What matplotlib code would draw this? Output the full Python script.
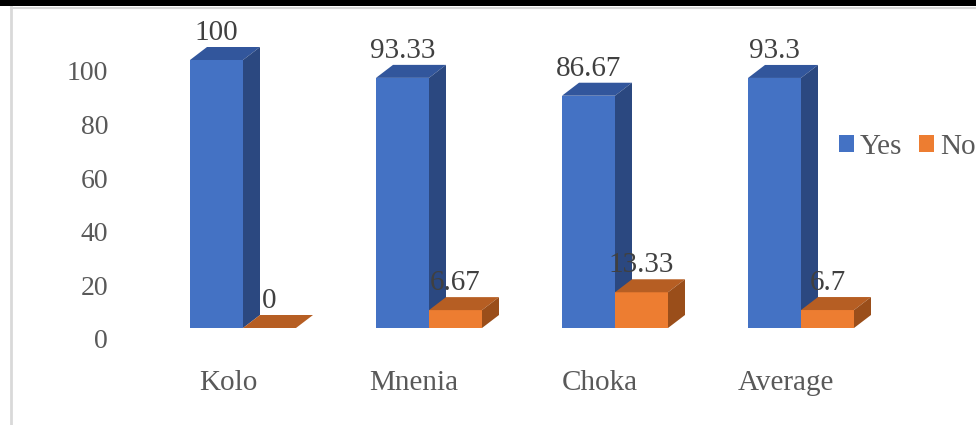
import matplotlib.pyplot as plt
from matplotlib.patches import Polygon, Patch, Rectangle
from matplotlib.lines import Line2D
from matplotlib.transforms import ScaledTranslation

# data
categories = ['Kolo', 'Mnenia', 'Choka', 'Average']
yes_vals = [100, 93.33, 86.67, 93.3]
no_vals = [0, 6.67, 13.33, 6.7]
yes_labels = ['100', '93.33', '86.67', '93.3']
no_labels = ['0', '6.67', '13.33', '6.7']
yticks = [0, 20, 40, 60, 80, 100]

W, H = 976, 425
fig = plt.figure(figsize=(W / 100, H / 100), dpi=100)
plt.rcParams['font.family'] = ['Liberation Serif', 'DejaVu Serif']

# axes placed so that value 0 / 100 sit on the front-face baseline / top
ax = fig.add_axes([150 / W, (H - 328) / H, 744 / W, 268 / H])
ax.set_xlim(-0.5, 3.5)
ax.set_ylim(0, 100)
for s in ax.spines.values():
    s.set_visible(False)
ax.patch.set_visible(False)

px_x = 744 / 4.0      # pixels per category unit
px_y = 268 / 100.0    # pixels per value unit
dx = 17 / px_x        # depth offset
dy = 13 / px_y
w = 53 / px_x         # bar width

yes_c = ('#4472C4', '#32569C', '#2B4880')   # front, top, side
no_c = ('#ED7D31', '#B65E23', '#9A4E1A')


def bar3d(x0, h, cols):
    front, top, side = cols
    x1 = x0 + w
    ax.add_patch(Polygon([(x0, 0), (x1, 0), (x1, h), (x0, h)], closed=True,
                         facecolor=front, edgecolor='none', clip_on=False))
    ax.add_patch(Polygon([(x0, h), (x1, h), (x1 + dx, h + dy), (x0 + dx, h + dy)],
                         closed=True, facecolor=top, edgecolor='none', clip_on=False))
    ax.add_patch(Polygon([(x1, 0), (x1 + dx, dy), (x1 + dx, h + dy), (x1, h)],
                         closed=True, facecolor=side, edgecolor='none', clip_on=False))


lab_off = 27 / 100 * 72  # points above front top
for i in range(len(categories)):
    bar3d(i - w, yes_vals[i], yes_c)
    bar3d(i, no_vals[i], no_c)
    ax.annotate(yes_labels[i], xy=(i - w / 2, yes_vals[i]), xytext=(0, lab_off),
                textcoords='offset points', ha='center', va='center',
                fontsize=21, color='#404040', annotation_clip=False)
    ax.annotate(no_labels[i], xy=(i + w / 2, no_vals[i]), xytext=(0, lab_off),
                textcoords='offset points', ha='center', va='center',
                fontsize=21, color='#404040', annotation_clip=False)

ax.set_yticks(yticks)
ax.set_yticklabels([str(t) for t in yticks], fontsize=20, color='#595959')
ax.set_xticks(range(len(categories)))
ax.set_xticklabels(categories, fontsize=21, color='#595959')
ax.tick_params(axis='both', length=0)
ax.tick_params(axis='y', pad=42 / 100 * 72)
ax.tick_params(axis='x', pad=55 / 100 * 72)

for lbl in ax.get_yticklabels():
    lbl.set_transform(lbl.get_transform() + ScaledTranslation(0, -11 / 100, fig.dpi_scale_trans))
for lbl in ax.get_xticklabels():
    lbl.set_va('center')
    lbl.set_transform(lbl.get_transform() + ScaledTranslation(-15 / 100, 0, fig.dpi_scale_trans))

handles = [Patch(facecolor=yes_c[0]), Patch(facecolor=no_c[0])]
fig.legend(handles, ['Yes', 'No'], loc='center left',
           bbox_to_anchor=(839 / W, 1 - 147 / H), ncol=2, frameon=False,
           fontsize=21, labelcolor='#595959', handlelength=0.5, handleheight=0.5,
           handletextpad=0.2, columnspacing=0.6, borderpad=0, borderaxespad=0)

# chart frame pieces: black band at top, light gray border
fig.patches.append(Rectangle((0, 1 - 6 / H), 1, 6 / H, transform=fig.transFigure,
                             facecolor='black', edgecolor='none'))
fig.lines.append(Line2D([11 / W, 11 / W], [0, 1 - 7 / H], transform=fig.transFigure,
                        color='#D9D9D9', lw=2))
fig.lines.append(Line2D([11 / W, 1], [1 - 7.5 / H, 1 - 7.5 / H], transform=fig.transFigure,
                        color='#D9D9D9', lw=1.5))

fig.savefig('out.png', dpi=100)
